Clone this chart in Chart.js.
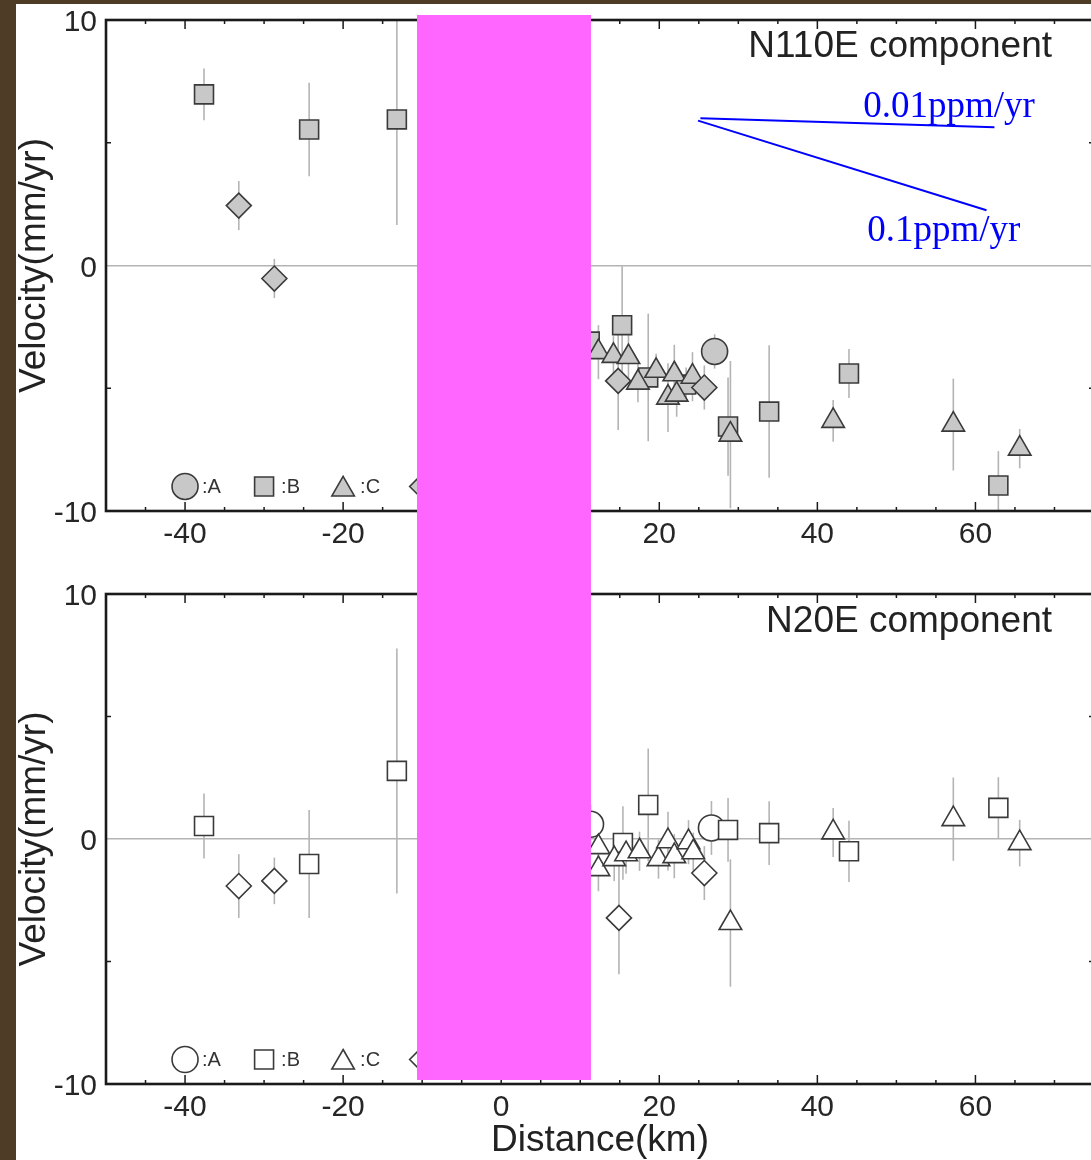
<!DOCTYPE html>
<html>
<head>
<meta charset="utf-8">
<script src="https://cdn.jsdelivr.net/npm/chart.js@4.4.1/dist/chart.umd.min.js"></script>
<style>
body { margin:0; background:#4f3c26; width:1091px; height:1160px; overflow:hidden; }
#hoja { position:absolute; left:16px; top:4px; width:1075px; height:1156px; background:#fff; overflow:hidden; }
#c110 { position:absolute; left:0; top:0; }
#c20 { position:absolute; left:0; top:570px; }
#tapa { position:absolute; left:401px; top:11px; width:174px; height:1065px; background:#ff66ff; }
</style>
</head>
<body>
<div id="hoja">
	<canvas id="c110" width="1078" height="570"></canvas>
	<canvas id="c20" width="1078" height="586"></canvas>
	<div id="tapa"></div>
</div>
<script>
// ---- N110E component ----
var kmA_110 = [27.0];
var velA_110 = [-3.5];
var errA_110 = [0.7];

var kmB_110 = [-37.6, -24.3, -13.2, 11.2, 15.3, 18.6, 23.4, 28.7, 33.9, 44.0, 62.9];
var velB_110 = [6.97, 5.54, 5.95, -3.1, -2.43, -4.56, -4.85, -6.56, -5.95, -4.4, -8.96];
var errB_110 = [1.05, 1.9, 4.3, 0.8, 2.4, 2.6, 0.7, 2.0, 2.7, 1.0, 1.4];

var kmC_110 = [12.3, 14.2, 16.1, 17.3, 19.6, 21.1, 21.9, 22.2, 24.2, 29.0, 42.0, 57.2, 65.6];
var velC_110 = [-3.53, -3.68, -3.73, -4.77, -4.29, -5.38, -4.43, -5.26, -4.53, -6.89, -6.33, -6.48, -7.46];
var errC_110 = [1.1, 0.8, 0.9, 0.8, 0.7, 1.4, 1.2, 0.9, 1.0, 3.0, 0.85, 1.87, 0.8];

var kmD_110 = [-33.2, -28.7, 14.8, 25.7];
var velD_110 = [2.44, -0.53, -4.7, -4.97];
var errD_110 = [1.0, 0.8, 2.0, 0.9];

// ---- N20E component ----
var kmA_20 = [11.3, 26.6];
var velA_20 = [0.6, 0.45];
var errA_20 = [0.8, 1.1];

var kmB_20 = [-37.6, -24.3, -13.2, 15.4, 18.6, 28.7, 33.9, 44.0, 62.9];
var velB_20 = [0.53, -1.02, 2.78, -0.16, 1.39, 0.37, 0.24, -0.5, 1.27];
var errB_20 = [1.33, 2.2, 5.0, 1.5, 2.3, 1.3, 1.3, 1.25, 1.25];

var kmC_20 = [12.3, 12.3, 14.3, 15.8, 17.5, 19.9, 21.1, 21.9, 23.7, 24.3, 29.0, 42.0, 57.2, 65.6];
var velC_20 = [-0.33, -1.23, -0.82, -0.62, -0.5, -0.82, -0.09, -0.7, -0.13, -0.54, -3.43, 0.27, 0.81, -0.17];
var errC_20 = [0.8, 0.9, 0.9, 0.8, 0.8, 0.8, 1.2, 0.9, 0.9, 0.8, 2.6, 1.0, 1.7, 0.95];

var kmD_20 = [-33.2, -28.7, 14.9, 25.7];
var velD_20 = [-1.92, -1.71, -3.22, -1.39];
var errD_20 = [1.3, 0.95, 2.3, 1.1];

// ejes
var kmTicks = [-40, -20, 0, 20, 40, 60];
var velTicks = [-10, 0, 10];
var clases = ["A", "B", "C", "D"];

// lineas de deformacion (ppm/yr)
var tasas = [0.01, 0.1];
var tasasTexto = ["0.01ppm/yr", "0.1ppm/yr"];
var tasaIniKm = [25.2, 24.9];
var tasaIniVel = [6.0, 5.9];
var tasaFinKm = [62.4, 61.4];

var estilos = { A: "circle", B: "rect", C: "triangle", D: "rectRot" };
var radios = { A: 13, B: 13.4, C: 13, D: 12.5 };
var LETRA = '"Liberation Sans", Arial, sans-serif';
var NADA = "rgba(0,0,0,0)";

function puntos(km, vel, err) {
	var p = [];
	for (var i = 0; i < km.length; i++) p.push({ x: km[i], y: vel[i], e: err[i] });
	return p;
}

function serie(clase, km, vel, err, relleno) {
	return {
		label: clase,
		data: puntos(km, vel, err),
		pointStyle: estilos[clase],
		pointRadius: radios[clase],
		pointBackgroundColor: relleno,
		pointBorderColor: "#3a3a3a",
		pointBorderWidth: 1.6
	};
}

// dibuja un simbolo de la leyenda
function simbolo(ctx, estilo, x, y, r) {
	ctx.beginPath();
	if (estilo == "circle") {
		ctx.arc(x, y, r, 0, Math.PI * 2);
	} else if (estilo == "rect") {
		var s = r * Math.SQRT1_2;
		ctx.rect(x - s, y - s, 2 * s, 2 * s);
	} else if (estilo == "triangle") {
		ctx.moveTo(x, y - r);
		ctx.lineTo(x + r * 0.866, y + r / 2);
		ctx.lineTo(x - r * 0.866, y + r / 2);
	} else {
		ctx.moveTo(x, y - r);
		ctx.lineTo(x + r, y);
		ctx.lineTo(x, y + r);
		ctx.lineTo(x - r, y);
	}
	ctx.closePath();
	ctx.fill();
	ctx.stroke();
}

// barras de error verticales
var barras = {
	id: "barras",
	beforeDatasetsDraw: function(chart) {
		var ctx = chart.ctx, ys = chart.scales.y, a = chart.chartArea;
		ctx.save();
		ctx.beginPath();
		ctx.rect(a.left, a.top, a.right - a.left, a.bottom - a.top);
		ctx.clip();
		ctx.strokeStyle = "#b4b4b4";
		ctx.lineWidth = 1.6;
		chart.data.datasets.forEach(function(ds, i) {
			var meta = chart.getDatasetMeta(i);
			ds.data.forEach(function(p, j) {
				if (p.e == null) return;
				var x = meta.data[j].x;
				ctx.beginPath();
				ctx.moveTo(x, ys.getPixelForValue(p.y + p.e));
				ctx.lineTo(x, ys.getPixelForValue(p.y - p.e));
				ctx.stroke();
			});
		});
		ctx.restore();
	}
};

// marco con marcas hacia adentro, titulo y leyenda
var marco = {
	id: "marco",
	afterDraw: function(chart) {
		var ctx = chart.ctx, a = chart.chartArea;
		var xs = chart.scales.x, ys = chart.scales.y;
		var op = chart.options.plugins.marco;
		ctx.save();
		ctx.strokeStyle = "#1a1a1a";
		ctx.lineWidth = 1.5;
		ctx.beginPath();
		for (var v = -50; v <= 75; v += 5) {
			var x = xs.getPixelForValue(v);
			var l = (v % 20 == 0) ? 9 : 4;
			ctx.moveTo(x, a.bottom); ctx.lineTo(x, a.bottom - l);
			ctx.moveTo(x, a.top); ctx.lineTo(x, a.top + l);
		}
		[-5, 5].forEach(function(v) {
			var y = ys.getPixelForValue(v);
			ctx.moveTo(a.left, y); ctx.lineTo(a.left + 5, y);
			ctx.moveTo(a.right, y); ctx.lineTo(a.right - 5, y);
		});
		ctx.stroke();
		ctx.lineWidth = 2.6;
		ctx.strokeRect(a.left, a.top, a.right - a.left, a.bottom - a.top);

		ctx.fillStyle = "#222";
		ctx.font = "37px " + LETRA;
		ctx.textAlign = "right";
		ctx.textBaseline = "alphabetic";
		ctx.fillText(op.titulo, a.right - 42, a.top + op.bajaTitulo);

		// leyenda
		var yl = ys.getPixelForValue(-9);
		ctx.lineWidth = 1.6;
		ctx.strokeStyle = "#3a3a3a";
		ctx.font = "20px " + LETRA;
		ctx.textAlign = "left";
		ctx.textBaseline = "middle";
		clases.forEach(function(c, i) {
			var xl = xs.getPixelForValue(-40 + i * 10);
			ctx.fillStyle = op.relleno;
			simbolo(ctx, estilos[c], xl, c == "C" ? yl + 3 : yl, radios[c]);
			ctx.fillStyle = "#333";
			ctx.fillText(":" + c, xl + 17, yl + 1);
		});

		if (op.tasas) {
			ctx.fillStyle = "#0000ff";
			ctx.font = '37px "Liberation Serif", "Times New Roman", serif';
			ctx.textBaseline = "alphabetic";
			ctx.fillText(tasasTexto[0], xs.getPixelForValue(45.8), ys.getPixelForValue(6.03));
			ctx.fillText(tasasTexto[1], xs.getPixelForValue(46.3), ys.getPixelForValue(0.98));
		}
		ctx.restore();
	}
};

function lineasTasa() {
	var out = [];
	for (var i = 0; i < tasas.length; i++) {
		// 1 ppm/yr = 1 mm/yr por km
		var fin = tasaIniVel[i] - tasas[i] * (tasaFinKm[i] - tasaIniKm[i]);
		out.push({
			label: tasasTexto[i],
			data: [{ x: tasaIniKm[i], y: tasaIniVel[i] }, { x: tasaFinKm[i], y: fin }],
			showLine: true,
			borderColor: "#0000ff",
			borderWidth: 2,
			pointRadius: 0
		});
	}
	return out;
}

function panel(id, series, op) {
	return new Chart(document.getElementById(id), {
		type: "scatter",
		data: { datasets: series },
		options: {
			responsive: false,
			animation: false,
			layout: { autoPadding: false, padding: { top: op.arriba, right: 0, bottom: 0, left: 0 } },
			plugins: {
				legend: { display: false },
				tooltip: { enabled: false },
				marco: op
			},
			scales: {
				x: {
					min: -50, max: 75,
					// marcas invisibles: solo separan las etiquetas del eje
					grid: { drawOnChartArea: false, drawTicks: true, tickLength: 9, tickColor: NADA, color: NADA },
					border: { display: false },
					ticks: {
						stepSize: 10, autoSkip: false, maxRotation: 0, padding: 0,
						color: "#262626", font: { family: LETRA, size: 30, lineHeight: 1 },
						callback: function(v) { return kmTicks.indexOf(v) >= 0 ? String(v) : ""; }
					},
					title: {
						display: op.ejeX, text: "Distance(km)", color: "#222",
						font: { family: LETRA, size: 37, lineHeight: 1 },
						padding: { top: 0, bottom: 1 }
					},
					afterFit: function(s) { s.height = op.altoX; }
				},
				y: {
					min: -10, max: 10,
					grid: {
						drawTicks: true, tickLength: 9, tickColor: NADA, lineWidth: 1.5,
						color: function(c) { return c.tick && c.tick.value == 0 ? "#b4b4b4" : NADA; }
					},
					border: { display: false },
					ticks: {
						stepSize: 10, padding: 0, labelOffset: 3,
						color: "#262626", font: { family: LETRA, size: 30, lineHeight: 1 },
						callback: function(v) { return velTicks.indexOf(v) >= 0 ? String(v) : ""; }
					},
					title: {
						display: true, text: "Velocity(mm/yr)", color: "#222",
						font: { family: LETRA, size: 37, lineHeight: 1 },
						padding: { top: 0, bottom: 0 }
					},
					afterFit: function(s) { s.width = 90; }
				}
			}
		},
		plugins: [barras, marco]
	});
}

var gris = "#c8c8c8";
panel("c110", lineasTasa().concat([
	serie("D", kmD_110, velD_110, errD_110, gris),
	serie("C", kmC_110, velC_110, errC_110, gris),
	serie("B", kmB_110, velB_110, errB_110, gris),
	serie("A", kmA_110, velA_110, errA_110, gris)
]), { titulo: "N110E component", bajaTitulo: 37, relleno: gris, tasas: true, arriba: 16, altoX: 63, ejeX: false });

panel("c20", [
	serie("D", kmD_20, velD_20, errD_20, "#fff"),
	serie("C", kmC_20, velC_20, errC_20, "#fff"),
	serie("B", kmB_20, velB_20, errB_20, "#fff"),
	serie("A", kmA_20, velA_20, errA_20, "#fff")
], { titulo: "N20E component", bajaTitulo: 38, relleno: "#fff", tasas: false, arriba: 20, altoX: 76, ejeX: true });
</script>
</body>
</html>
